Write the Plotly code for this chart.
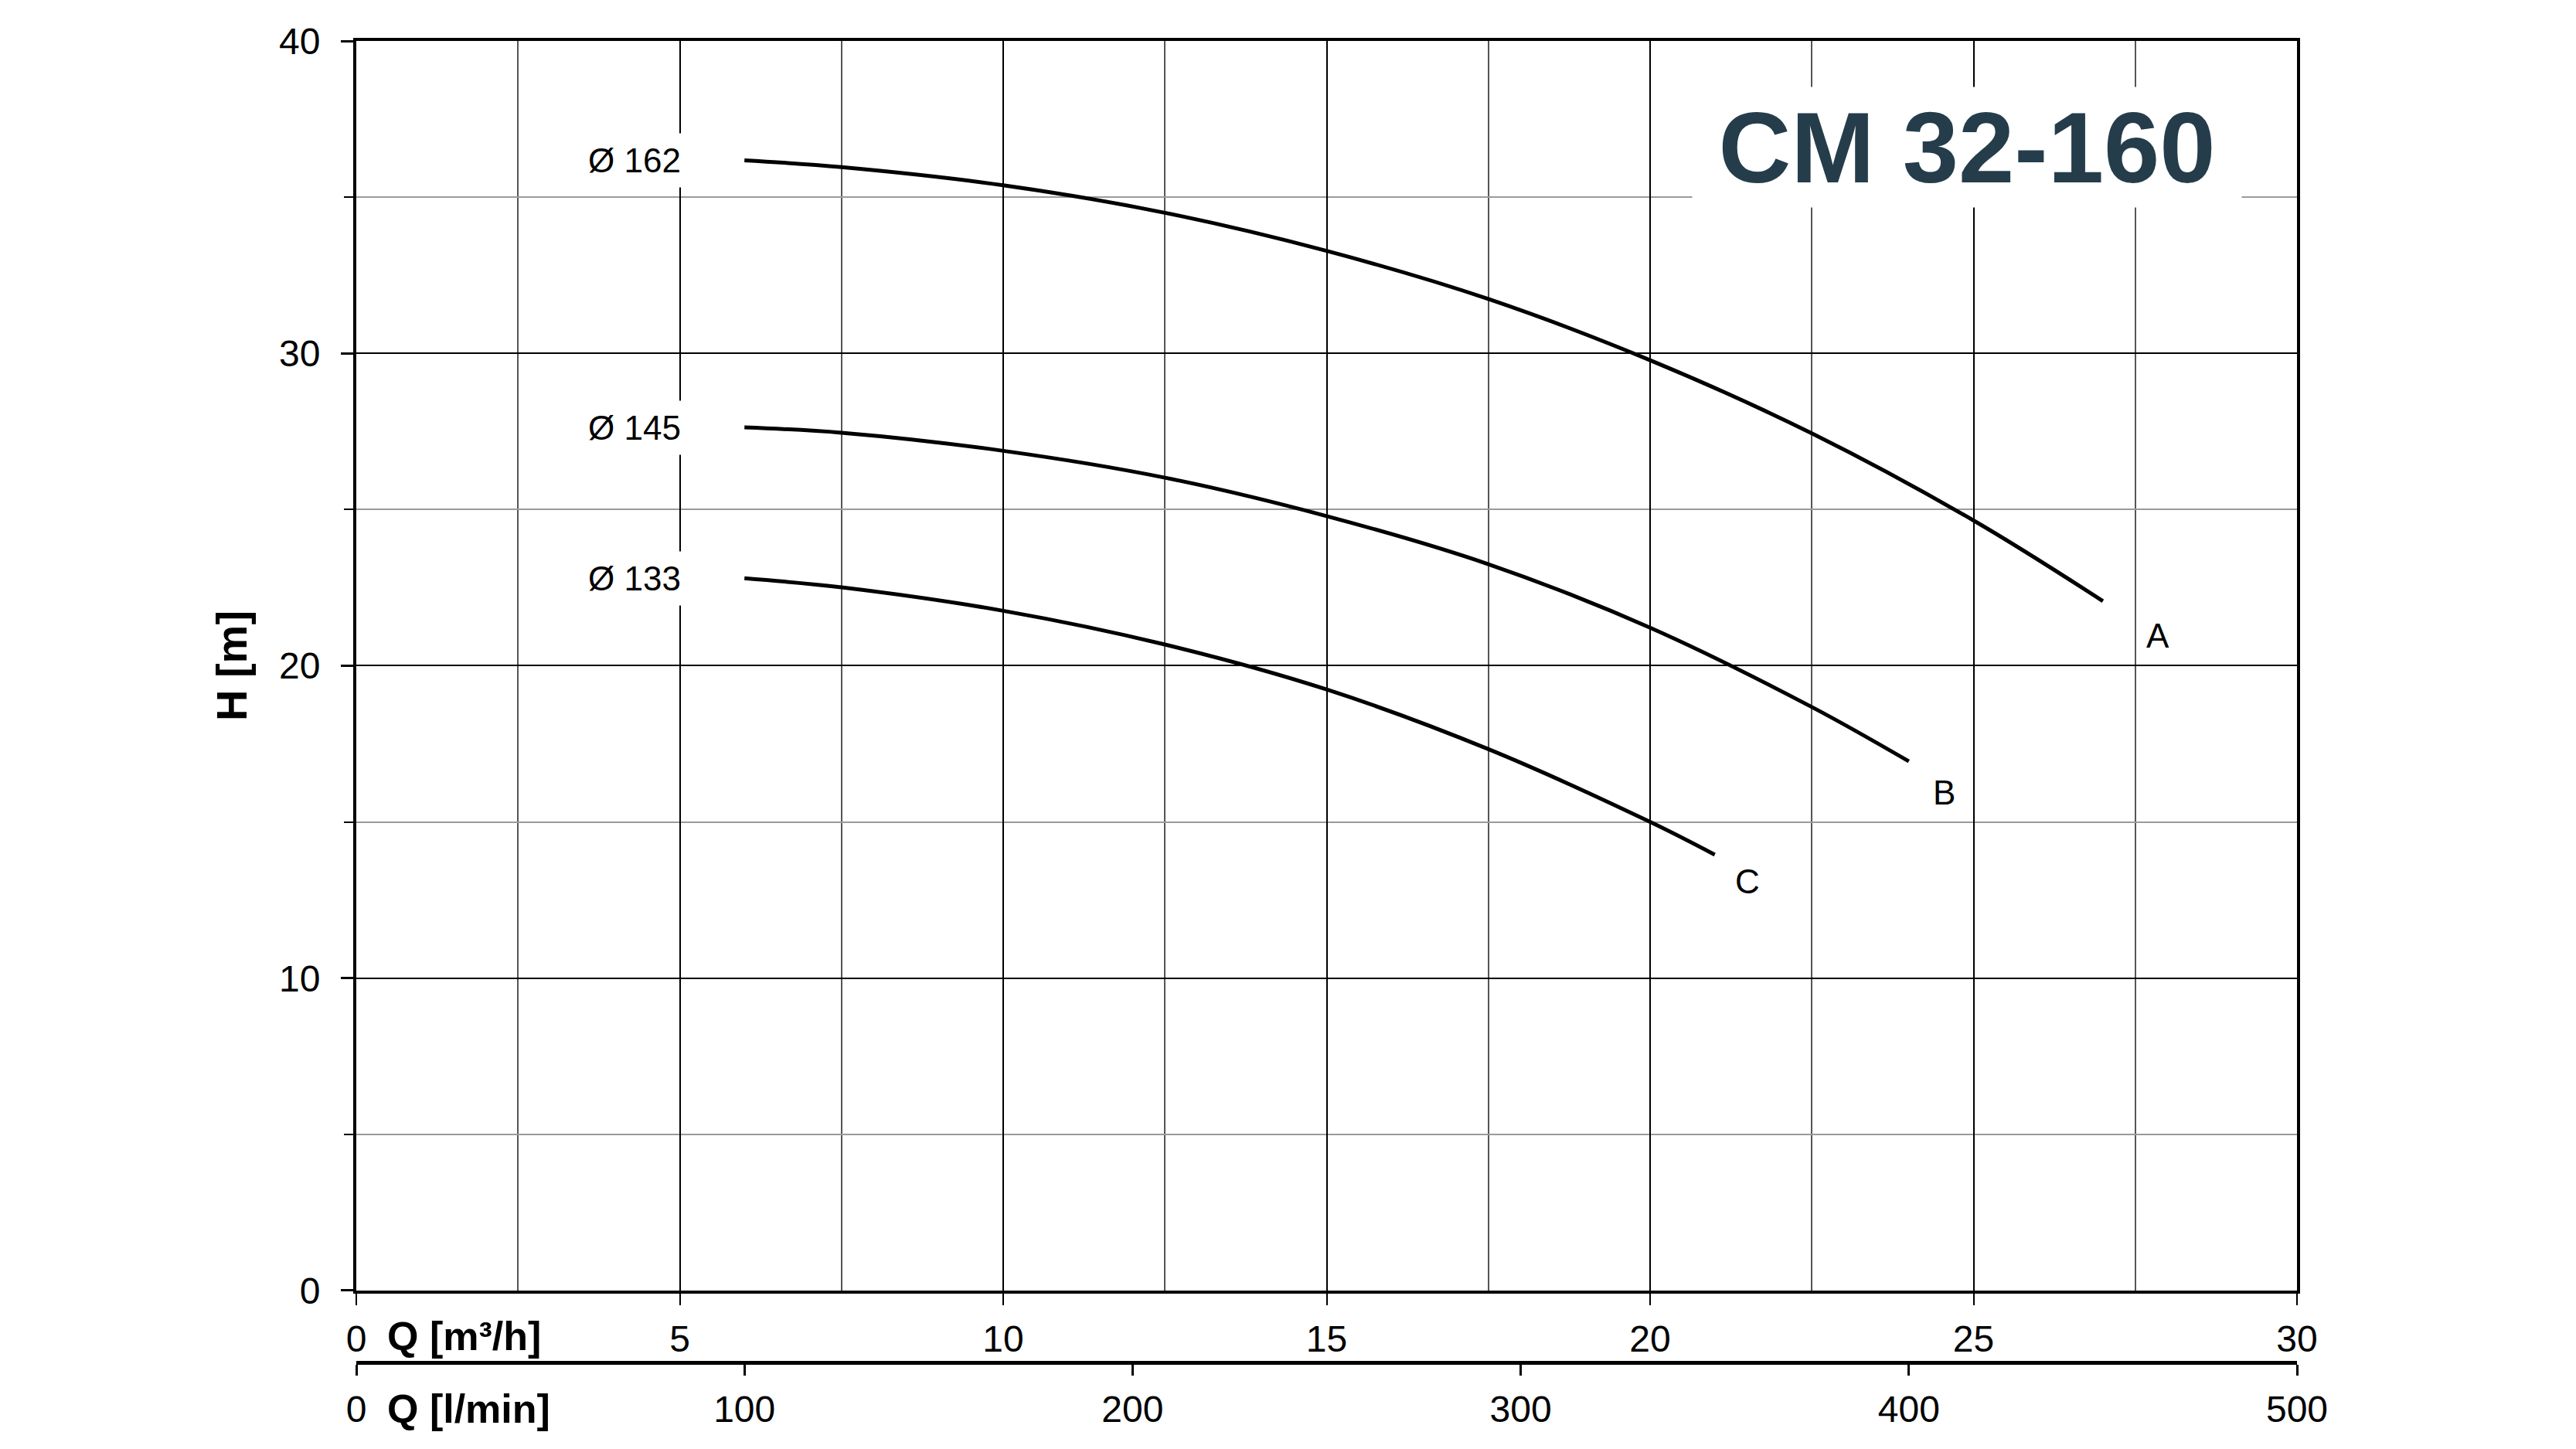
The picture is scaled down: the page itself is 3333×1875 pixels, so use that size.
#!/usr/bin/env python3
"""
CM 32-160 pump curves: head H [m] against flow Q, three impeller diameters
"""

import plotly.graph_objects as go

# curve data (Q in m3/h, H in m)
curve_names = ['A', 'B', 'C']
diameters = [162, 145, 133]

q_a = [6.0, 7.5, 10.0, 12.5, 15.0, 17.5, 20.0, 22.5, 25.0, 27.0]
h_a = [36.18, 35.96, 35.38, 34.50, 33.28, 31.74, 29.78, 27.44, 24.65, 22.07]

q_b = [6.0, 7.5, 10.0, 12.5, 15.0, 17.5, 20.0, 22.5, 24.0]
h_b = [27.63, 27.46, 26.88, 26.02, 24.79, 23.25, 21.22, 18.68, 16.94]

q_c = [6.0, 7.5, 10.0, 12.5, 15.0, 17.5, 20.0, 21.0]
h_c = [22.80, 22.51, 21.76, 20.68, 19.24, 17.33, 15.00, 13.95]

q_ticks = [0, 5, 10, 15, 20, 25, 30]
lmin_ticks = [0, 100, 200, 300, 400, 500]
h_ticks = [0, 10, 20, 30, 40]

model = 'CM 32-160'

FONT = 'Liberation Sans, Arial, sans-serif'


def create_chart():
    fig = go.Figure()

    curves = [(q_a, h_a), (q_b, h_b), (q_c, h_c)]
    # offsets of the end letters from the end of each curve
    end_dx = [0.85, 0.55, 0.5]
    end_dy = [-1.1, -1.0, -0.85]

    for i, (q, h) in enumerate(curves):
        fig.add_trace(go.Scatter(
            x=q, y=h, mode='lines',
            line=dict(color='black', width=5, shape='spline'),
            name=curve_names[i], hoverinfo='x+y'
        ))
        # diameter label left of the curve start
        fig.add_annotation(
            x=q[0] - 0.85, y=h[0], xref='x', yref='y',
            text=f'Ø {diameters[i]}', showarrow=False,
            xanchor='right', yanchor='middle',
            font=dict(family=FONT, size=44, color='black'),
            bgcolor='white', borderpad=10
        )
        # curve letter after the curve end
        fig.add_annotation(
            x=q[-1] + end_dx[i], y=h[-1] + end_dy[i], xref='x', yref='y',
            text=curve_names[i], showarrow=False,
            xanchor='center', yanchor='middle',
            font=dict(family=FONT, size=44, color='black')
        )

    # empty helper trace so the l/min axis gets drawn
    fig.add_trace(go.Scatter(
        x=[lmin_ticks[0], lmin_ticks[-1]], y=[None, None],
        xaxis='x2', mode='lines', hoverinfo='skip', showlegend=False
    ))

    # model name box
    fig.add_annotation(
        x=24.9, y=36.6, xref='x', yref='y',
        text=f'<b>{model}</b>', showarrow=False,
        xanchor='center', yanchor='middle',
        width=710, height=155, align='center', valign='middle',
        font=dict(family=FONT, size=130, color='#253D4B'),
        bgcolor='white', borderpad=0
    )

    # axis names beside the zero labels
    fig.add_annotation(
        x=0.45, y=0, xref='x', yref='paper', yshift=34,
        text='<b>Q [m³/h]</b>', showarrow=False,
        xanchor='left', yanchor='middle',
        font=dict(family=FONT, size=52, color='black')
    )
    fig.add_annotation(
        x=0.45, y=0, xref='x', yref='paper', yshift=-60,
        text='<b>Q [l/min]</b>', showarrow=False,
        xanchor='left', yanchor='middle',
        font=dict(family=FONT, size=52, color='black')
    )

    fig.update_layout(
        width=3333, height=1875,
        margin=dict(l=453, r=369, t=45, b=120, autoexpand=False),
        plot_bgcolor='white', paper_bgcolor='white',
        showlegend=False,
        font=dict(family=FONT, size=48, color='black'),
        xaxis=dict(
            range=[0, 30], tickvals=q_ticks, automargin=False,
            ticks='outside', ticklen=15, tickwidth=2, tickcolor='black',
            showline=True, linecolor='black', linewidth=4, mirror=True,
            showgrid=True, gridcolor='black', gridwidth=2,
            minor=dict(dtick=2.5, showgrid=True, gridcolor='#555555', gridwidth=1.5),
            zeroline=False, tickfont=dict(size=48), ticklabelstandoff=2,
            anchor='y'
        ),
        xaxis2=dict(
            range=[0, 500], tickvals=lmin_ticks, automargin=False,
            overlaying='x', anchor='free', position=0, side='bottom',
            ticks='outside', ticklen=14, tickwidth=3, tickcolor='black',
            showline=True, linecolor='black', linewidth=5,
            showgrid=False, zeroline=False,
            tickfont=dict(size=48), ticklabelstandoff=2
        ),
        yaxis=dict(
            range=[0, 40], tickvals=h_ticks, domain=[0.0544, 1],
            automargin=False,
            ticks='outside', ticklen=16, tickwidth=3, tickcolor='black',
            showline=True, linecolor='black', linewidth=4, mirror=True,
            showgrid=True, gridcolor='black', gridwidth=2,
            minor=dict(dtick=5, ticks='outside', ticklen=12, tickwidth=2,
                       tickcolor='black', showgrid=True,
                       gridcolor='#9a9a9a', gridwidth=2),
            zeroline=False, tickfont=dict(size=48), ticklabelstandoff=17,
            title=dict(text='<b>H [m]</b>', font=dict(size=56), standoff=24)
        )
    )
    return fig


if __name__ == '__main__':
    fig = create_chart()
    fig.write_html('out.html')
